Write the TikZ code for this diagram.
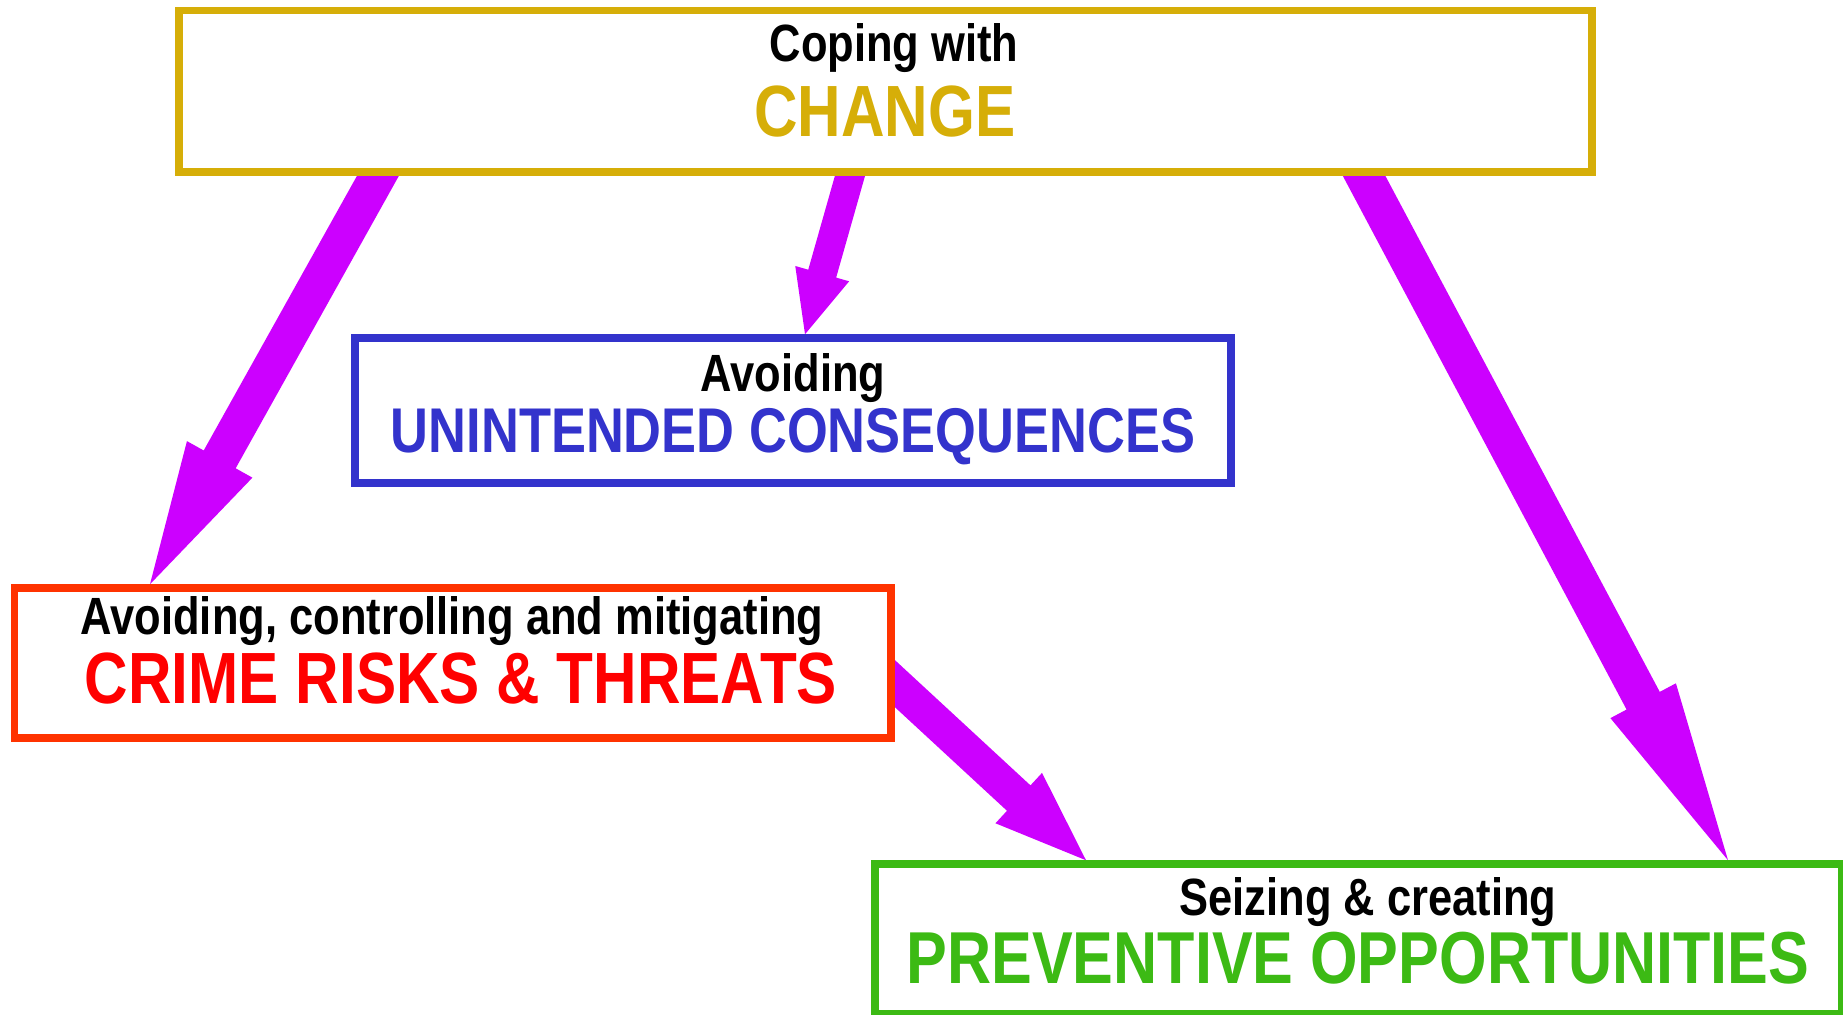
\documentclass[tikz,border=0pt]{standalone}
\usepackage{fontspec}
\setmainfont{Liberation Sans}[FakeStretch=0.83]
\usetikzlibrary{calc,backgrounds}

\definecolor{goldline}{RGB}{214,174,8}
\definecolor{blueline}{RGB}{51,51,204}
\definecolor{redline}{RGB}{255,51,0}
\definecolor{redtext}{RGB}{255,0,0}
\definecolor{greenline}{RGB}{60,186,20}
\definecolor{arrowfill}{RGB}{204,0,255}

% Block arrow: #1 start, #2 tip, #3 half shaft width, #4 half head width, #5 head length
\newcommand\fatarrow[5]{%
  \path ($(#1)!-20pt!(#2)$) coordinate (fa-t) ($(#2)!#5!(#1)$) coordinate (fa-m);
  \fill[arrowfill] ($(fa-t)!#3!90:(#2)$) -- ($(fa-m)!#3!90:(#2)$)
    -- ($(fa-m)!#4!90:(#2)$) -- (#2) -- ($(fa-m)!#4!-90:(#2)$)
    -- ($(fa-m)!#3!-90:(#2)$) -- ($(fa-t)!#3!-90:(#2)$) -- cycle;%
}

\begin{document}
\begin{tikzpicture}[x=0.5pt,y=-0.5pt,
  box/.style={draw, line width=3.75pt, fill=white, rectangle, inner sep=0pt},
  small/.style={anchor=base, inner sep=0pt, font=\bfseries\fontsize{26.2}{30}\selectfont},
  big/.style={anchor=base, inner sep=0pt, font=\bfseries\fontsize{36.3}{40}\selectfont}]

\useasboundingbox (0,0) rectangle (1843,1015);
\clip (0,0) rectangle (1843,1015);

% boxes
\node[box, draw=goldline, minimum width=706.5pt, minimum height=80.75pt] (change) at (885.5,91.25) {};
\node[box, draw=blueline, minimum width=438pt, minimum height=72.5pt] (unint) at (793,410.5) {};
\node[box, draw=redline, minimum width=438.25pt, minimum height=75pt] (crime) at (452.75,663) {};
\node[box, draw=greenline, minimum width=483.25pt, minimum height=74.75pt] (prev) at (1358.25,938.75) {};

% labels
\node[small] (change-a) at (894,62) {Coping with};
\node[big, text=goldline] (change-b) at (885,137) {CHANGE};
\node[small] (unint-a) at (793,392) {Avoiding};
\node[big, text=blueline, font=\bfseries\fontsize{31.6}{35}\selectfont] (unint-b) at (793,452.7) {UNINTENDED CONSEQUENCES};
\node[small] (crime-a) at (452,635) {Avoiding, controlling and mitigating};
\node[big, text=redtext] (crime-b) at (461,704) {CRIME RISKS \& THREATS};
\node[small] (prev-a) at (1368,915) {Seizing \& creating};
\node[big, text=greenline, font=\bfseries\fontsize{36.8}{40}\selectfont] (prev-b) at (1358,983) {PREVENTIVE OPPORTUNITIES};

% arrow ends on the box borders
\coordinate (sA) at ($(change.south west)+(202.75,0)$);
\coordinate (tA) at ($(crime.north west)+(139.25,0)$);
\coordinate (sB) at ($(change.south west)+(674.75,0)$);
\coordinate (tB) at ($(unint.north west)+(453.75,0)$);
\coordinate (sC) at ($(crime.north east)+(0,99.25)$);
\coordinate (tC) at ($(prev.north west)+(214.75,0)$);
\coordinate (sD) at ($(change.south west)+(1188.75,0)$);
\coordinate (tD) at ($(prev.north west)+(856.75,0)$);

\begin{scope}[on background layer]
  \fatarrow{sA}{tA}{9.15pt}{18.75pt}{71.5pt}
  \fatarrow{sB}{tB}{7.25pt}{14pt}{31.5pt}
  \fatarrow{sC}{tC}{8.65pt}{17.15pt}{45.8pt}
  \fatarrow{sD}{tD}{9.4pt}{18.55pt}{90.35pt}
\end{scope}
\end{tikzpicture}
\end{document}
